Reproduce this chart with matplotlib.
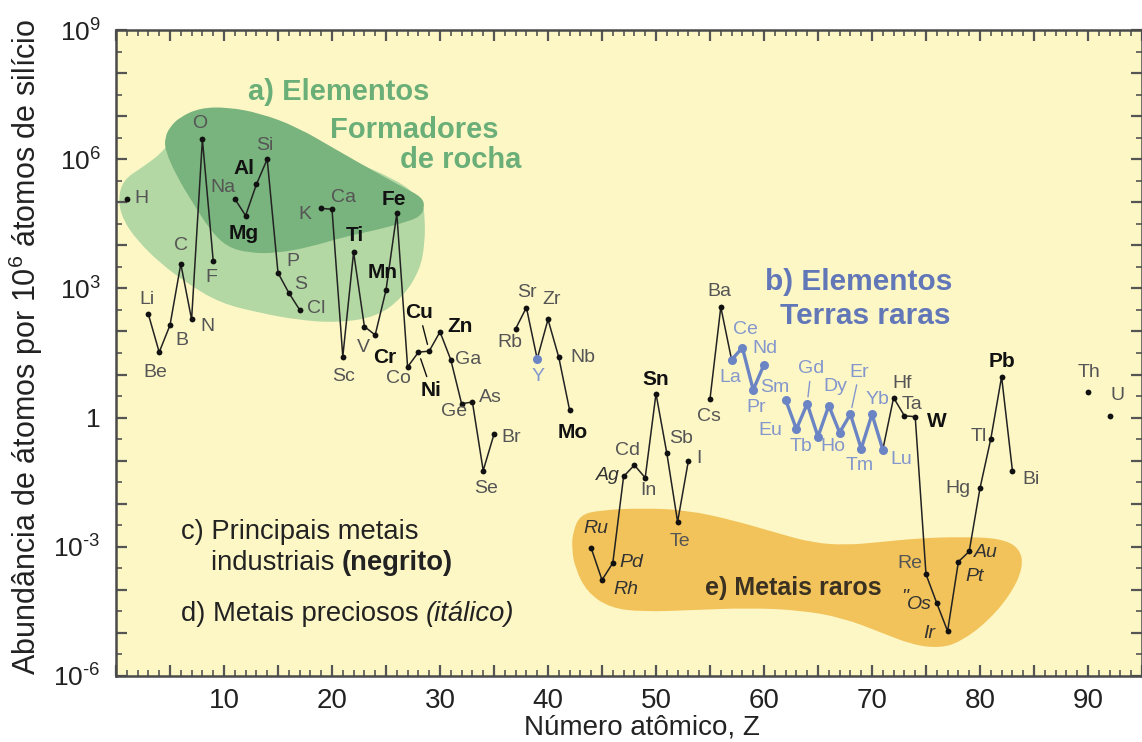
import numpy as np
import matplotlib
matplotlib.use("Agg")
import matplotlib.pyplot as plt
from matplotlib import ticker
from matplotlib.path import Path
from matplotlib.patches import PathPatch

plt.rcParams['font.family'] = ['Liberation Sans', 'DejaVu Sans']
plt.rcParams['mathtext.fontset'] = 'custom'
plt.rcParams['mathtext.rm'] = 'Liberation Sans'
plt.rcParams['mathtext.it'] = 'Liberation Sans:italic'
plt.rcParams['mathtext.bf'] = 'Liberation Sans:bold'

# valores (atomos por 10^6 atomos de Si)
numero = [1, 3, 4, 5, 6, 7, 8, 9, 11, 12, 13, 14, 15, 16, 17,
          19, 20, 21, 22, 23, 24, 25, 26, 27, 28, 29, 30, 31, 32, 33, 34, 35,
          37, 38, 39, 40, 41, 42, 44, 45, 46, 47, 48, 49, 50, 51, 52, 53,
          55, 56, 57, 58, 59, 60, 62, 63, 64, 65, 66, 67, 68, 69, 70, 71,
          72, 73, 74, 75, 76, 77, 78, 79, 80, 81, 82, 83, 90, 92]
simbolo = ['H', 'Li', 'Be', 'B', 'C', 'N', 'O', 'F', 'Na', 'Mg', 'Al', 'Si', 'P', 'S', 'Cl',
           'K', 'Ca', 'Sc', 'Ti', 'V', 'Cr', 'Mn', 'Fe', 'Co', 'Ni', 'Cu', 'Zn', 'Ga', 'Ge', 'As', 'Se', 'Br',
           'Rb', 'Sr', 'Y', 'Zr', 'Nb', 'Mo', 'Ru', 'Rh', 'Pd', 'Ag', 'Cd', 'In', 'Sn', 'Sb', 'Te', 'I',
           'Cs', 'Ba', 'La', 'Ce', 'Pr', 'Nd', 'Sm', 'Eu', 'Gd', 'Tb', 'Dy', 'Ho', 'Er', 'Tm', 'Yb', 'Lu',
           'Hf', 'Ta', 'W', 'Re', 'Os', 'Ir', 'Pt', 'Au', 'Hg', 'Tl', 'Pb', 'Bi', 'Th', 'U']
abundancia = [1.2e5, 250, 33, 140, 3700, 190, 2.9e6, 4400, 1.2e5, 4.9e4, 2.6e5, 1.0e6, 2300, 790, 320,
              7.2e4, 6.9e4, 26, 6900, 130, 83, 910, 5.5e4, 15, 33, 35, 98, 22, 2.1, 2.3, 0.059, 0.41,
              115, 360, 23, 190, 25, 1.5, 9.3e-4, 1.7e-4, 4.2e-4, 0.043, 0.079, 0.040, 3.6, 0.15, 3.8e-3, 0.10,
              2.7, 370, 22, 42, 4.4, 17, 2.6, 0.54, 2.1, 0.36, 1.9, 0.45, 1.2, 0.19, 1.2, 0.18,
              2.9, 1.1, 1.05, 2.3e-4, 4.9e-5, 1.1e-5, 4.5e-4, 7.8e-4, 0.023, 0.32, 8.9, 0.059, 4.0, 1.1]

negrito = ['Mg', 'Al', 'Ti', 'Cr', 'Mn', 'Fe', 'Ni', 'Cu', 'Zn', 'Mo', 'Sn', 'W', 'Pb']
italico = ['Ru', 'Rh', 'Pd', 'Ag', 'Os', 'Ir', 'Pt', 'Au']
terras_raras = ['Y', 'La', 'Ce', 'Pr', 'Nd', 'Sm', 'Eu', 'Gd', 'Tb', 'Dy', 'Ho', 'Er', 'Tm', 'Yb', 'Lu']

# contornos das regioes (Z, log10 da abundancia)
verde_claro_z = [4.35, 2.5, 0.65, 0.19, 0.65, 1.94, 4.07, 6.57, 9.63, 13.33, 16.76, 20.46, 24.17,
                 26.57, 28.15, 28.6, 28.6, 28.4, 26.3, 17.0, 7.8, 5.0]
verde_claro_log = [6.17, 5.82, 5.52, 5.05, 4.59, 4.12, 3.59, 3.12, 2.66, 2.43, 2.27, 2.20, 2.34,
                   2.80, 3.43, 4.05, 4.66, 4.98, 5.52, 6.44, 6.79, 6.44]
verde_escuro_z = [5.0, 5.93, 7.78, 10.28, 13.33, 16.76, 20.46, 24.17, 26.57, 28.33, 28.6, 28.15,
                  26.57, 24.17, 21.02, 17.96, 14.9, 12.4, 10.28, 8.7, 7.13, 5.65, 4.54, 4.54]
verde_escuro_log = [6.75, 6.98, 7.19, 7.21, 7.07, 6.75, 6.21, 5.68, 5.35, 5.12, 4.89, 4.66,
                    4.52, 4.36, 4.19, 3.96, 3.82, 3.82, 3.96, 4.36, 4.98, 5.59, 6.21, 6.51]
laranja_z = [42.3, 42.96, 44.8, 48.8, 52.87, 57.13, 61.2, 64.54, 67.69, 70.74, 74.44, 78.15, 81.85,
             83.7, 84.0, 82.8, 80.65, 78.15, 76.3, 73.8, 70.74, 67.3, 63.33, 58.43, 53.4, 48.8,
             45.74, 43.6, 42.5, 42.2]
laranja_log = [-2.66, -2.26, -2.15, -2.10, -2.15, -2.38, -2.68, -2.91, -2.96, -2.89, -2.80, -2.77, -2.80,
               -3.03, -3.49, -4.12, -4.75, -5.21, -5.35, -5.28, -4.98, -4.65, -4.47, -4.42, -4.47, -4.51,
               -4.42, -4.05, -3.49, -3.03]

# deslocamento dos rotulos em pixels (dx, dy)
desloc = {'H': (15, 0), 'Li': (-1, 15), 'Be': (-4, -20), 'B': (12, -15), 'C': (0, 18), 'N': (16, -7),
          'O': (-3, 16), 'F': (-2, -17), 'Na': (-12, 11), 'Mg': (-2, -18), 'Al': (-12, 16), 'Si': (-2, 14),
          'P': (15, 11), 'S': (12, 8), 'Cl': (17, 1), 'K': (-16, -6), 'Ca': (12, 12), 'Sc': (1, -20),
          'Ti': (1, 17), 'V': (-1, -21), 'Cr': (10, -23), 'Mn': (-3, 18), 'Fe': (-3, 14), 'Co': (-9, -12),
          'Ni': (13, -38), 'Cu': (-10, 39), 'Zn': (20, 5), 'Ga': (17, 0), 'Ge': (-8, -8), 'As': (18, 5),
          'Se': (3, -18), 'Br': (17, -3), 'Rb': (-6, -14), 'Sr': (1, 15), 'Y': (1, -18), 'Zr': (4, 20),
          'Nb': (24, 0), 'Mo': (3, -22), 'Ru': (5, 20), 'Rh': (24, -10), 'Pd': (19, 1), 'Ag': (-16, 1),
          'Cd': (-7, 15), 'In': (3, -13), 'Sn': (0, 14), 'Sb': (14, 15), 'Te': (2, -20), 'I': (11, 2),
          'Cs': (-1, -17), 'Ba': (-1, 15), 'La': (-1, -18), 'Ce': (3, 18), 'Pr': (3, -18), 'Nd': (1, 16),
          'Sm': (-11, 12), 'Eu': (-26, -1), 'Gd': (4, 35), 'Tb': (-17, -10), 'Dy': (7, 19), 'Ho': (-7, -14),
          'Er': (9, 42), 'Tm': (-2, -17), 'Yb': (5, 15), 'Lu': (18, -10), 'Hf': (9, 14), 'Ta': (8, 11),
          'W': (22, -5), 'Re': (-16, 11), 'Os': (-17, -1), 'Ir': (-18, -2), 'Pt': (16, -15), 'Au': (17, -1),
          'Hg': (-22, 0), 'Tl': (-12, 2), 'Pb': (0, 15), 'Bi': (19, -9), 'Th': (1, 19), 'U': (8, 20)}
com_traco = ['Cu', 'Ni', 'Gd', 'Er']

cinza = '#555555'
azul = '#6b84c4'
azul_txt = '#8497cc'


def regiao(ax, zs, logs, cor):
    p = np.column_stack([zs, logs])
    m = (p + np.roll(p, -1, axis=0)) / 2
    verts = [m[-1]]
    codes = [Path.MOVETO]
    for i in range(len(p)):
        verts += [p[i], m[i]]
        codes += [Path.CURVE3, Path.CURVE3]
    verts = np.array(verts)
    verts[:, 1] = 10.0 ** verts[:, 1]
    ax.add_patch(PathPatch(Path(verts, codes), facecolor=cor, edgecolor='none', zorder=1))


fig = plt.figure(figsize=(11.42, 7.42), dpi=100)
ax = fig.add_axes([116 / 1142, 66 / 742, 1026 / 1142, 646 / 742])
ax.set_facecolor('#fdf7c6')
ax.set_yscale('log')
ax.set_xlim(0, 95)
ax.set_ylim(1e-6, 1e9)

regiao(ax, verde_claro_z, verde_claro_log, '#b4d8a4')
regiao(ax, verde_escuro_z, verde_escuro_log, '#79b37d')
regiao(ax, laranja_z, laranja_log, '#f2c35a')

z = np.array(numero)
v = np.array(abundancia)
quebras = np.where(np.diff(z) > 1)[0] + 1
for trecho in np.split(np.arange(len(z)), quebras):
    ax.plot(z[trecho], v[trecho], color='#222222', lw=1.1, zorder=3)
    tr = [i for i in trecho if simbolo[i] in terras_raras and simbolo[i] != 'Y']
    if len(tr) > 1:
        ax.plot(z[tr], v[tr], color=azul, lw=2.4, zorder=4)

for i, s in enumerate(simbolo):
    if s in terras_raras:
        ax.plot(z[i], v[i], 'o', color=azul, ms=6.5, mec='none', zorder=5)
    else:
        ax.plot(z[i], v[i], 'o', color='#111111', ms=4.2, mec='none', zorder=5)
    cor = cinza
    peso = 'normal'
    estilo = 'normal'
    tam = 14
    if s in negrito:
        cor = '#111111'
        peso = 'bold'
        tam = 15
    if s in italico:
        cor = '#333333'
        estilo = 'italic'
    if s in terras_raras:
        cor = azul_txt
    seta = None
    if s in com_traco:
        seta = dict(arrowstyle='-', color=cor, lw=1.0, shrinkA=1, shrinkB=5)
    ax.annotate(s, (z[i], v[i]), xytext=desloc[s], textcoords='offset pixels',
                ha='center', va='center', fontsize=tam, color=cor, fontweight=peso,
                fontstyle=estilo, arrowprops=seta, zorder=6)

i_os = simbolo.index('Os')
ax.annotate('"', (z[i_os], v[i_os]), xytext=(-32, 6), textcoords='offset pixels',
            ha='center', va='center', fontsize=14, color='#333333', fontstyle='italic', zorder=6)

verde_txt = '#6aae78'
ax.text(12.2, 10 ** 7.56, 'a) Elementos', fontsize=21, fontweight='bold', color=verde_txt, va='center')
ax.text(19.8, 10 ** 6.68, 'Formadores', fontsize=21, fontweight='bold', color=verde_txt, va='center')
ax.text(26.3, 10 ** 5.98, 'de rocha', fontsize=21, fontweight='bold', color=verde_txt, va='center')
ax.text(60.1, 10 ** 3.15, 'b) Elementos', fontsize=21.5, fontweight='bold', color='#6277b8', va='center')
ax.text(61.5, 10 ** 2.36, 'Terras raras', fontsize=21.5, fontweight='bold', color='#6277b8', va='center')
ax.text(6.0, 10 ** -2.66, 'c) Principais metais', fontsize=19.7, color='#222222', va='center')
t1 = ax.text(8.8, 10 ** -3.38, 'industriais ', fontsize=19.7, color='#222222', va='center')
ax.annotate('(negrito)', xy=(1, 0), xycoords=t1, ha='left', va='bottom', fontsize=19.7,
            fontweight='bold', color='#222222')
t2 = ax.text(6.0, 10 ** -4.56, 'd) Metais preciosos ', fontsize=19.7, color='#222222', va='center')
ax.annotate('(itálico)', xy=(1, 0), xycoords=t2, ha='left', va='bottom', fontsize=19.7,
            fontstyle='italic', color='#222222')
ax.text(54.5, 10 ** -3.96, 'e) Metais raros', fontsize=18, fontweight='bold', color='#3a3122',
        va='center', zorder=6)

ax.xaxis.set_major_locator(ticker.MultipleLocator(5))
ax.xaxis.set_minor_locator(ticker.MultipleLocator(1))
ax.xaxis.set_major_formatter(ticker.FuncFormatter(
    lambda x, p: str(int(round(x))) if round(x) % 10 == 0 and x > 0 else ''))
ax.yaxis.set_major_locator(ticker.FixedLocator(10.0 ** np.arange(-6, 10)))
ax.yaxis.set_minor_locator(ticker.FixedLocator(10.0 ** (np.arange(-6, 9) + 0.5)))


def rotulo_y(y, p):
    n = int(round(np.log10(y)))
    if n % 3 != 0:
        return ''
    if n == 0:
        return '1'
    return r'$10^{\text{%d}}$' % n


ax.yaxis.set_major_formatter(ticker.FuncFormatter(rotulo_y))
ax.yaxis.set_minor_formatter(ticker.NullFormatter())
ax.tick_params(which='both', direction='in', top=True, right=True, color='#555555')
ax.tick_params(which='major', length=8, width=1.6, labelsize=20, labelcolor='#222222', pad=9)
ax.tick_params(axis='y', which='major', labelsize=19, pad=11)
ax.tick_params(which='minor', length=4, width=1.2)
for sp in ax.spines.values():
    sp.set_color('#4a4a4a')
    sp.set_linewidth(1.8)

ax.set_xlabel('Número atômico, Z', fontsize=20, color='#222222')
ax.xaxis.set_label_coords(0.513, -0.06)
ax.set_ylabel('Abundância de átomos por 10$^6$ átomos de silício', fontsize=22, color='#222222')
ax.yaxis.set_label_coords(-0.069, 0.51)

plt.savefig('out.png', dpi=100, facecolor='white')
